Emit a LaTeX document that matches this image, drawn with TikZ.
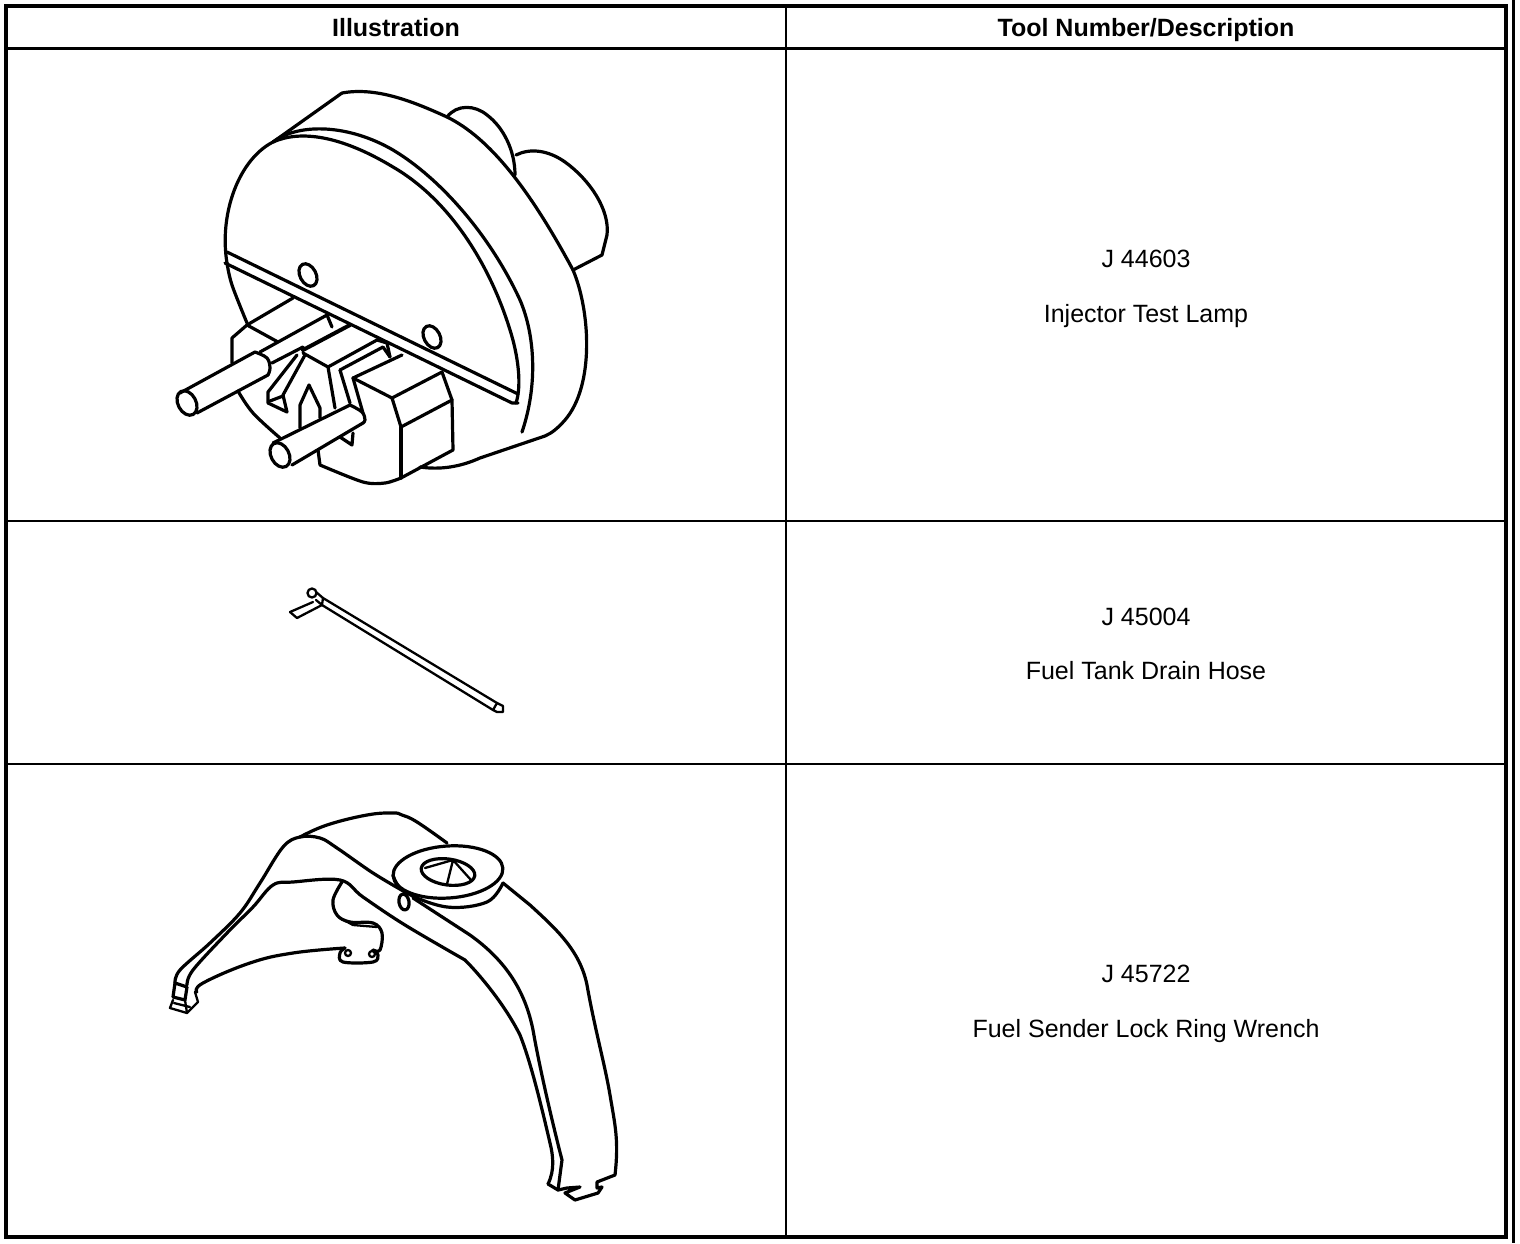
\documentclass[tikz,border=0pt]{standalone}
\usepackage{fontspec}
\setmainfont{Liberation Sans}
\begin{document}
\begin{tikzpicture}[x=1pt,y=-1pt,
  ink/.style={line width=3.2pt,line join=round,line cap=round},
  thin ink/.style={line width=2.3pt,line join=round,line cap=round},
  heavy/.style={line width=4pt},
  rule/.style={line width=2.6pt},
  head/.style={font=\fontsize{25}{28}\selectfont\bfseries,inner sep=0pt,anchor=base},
  body/.style={font=\fontsize{25}{28}\selectfont,inner sep=0pt,anchor=base}]
\useasboundingbox (0,0) rectangle (1520,1244);
% table
\draw[heavy] (6,6) rectangle (1506,1237);
\fill (1512,0) rectangle (1515,1243);
\draw[rule] (6,48.5) -- (1506,48.5) (6,521) -- (1506,521) (6,764) -- (1506,764) (786,6) -- (786,1237);
\node[head] (h1) at (396,37) {Illustration};
\node[head] (h2) at (1146,37) {Tool Number/Description};
\node[body] (a1) at (1146,267) {J 44603};
\node[body] (a2) at (1146,322) {Injector Test Lamp};
\node[body] (b1) at (1146,625) {J 45004};
\node[body] (b2) at (1146,679) {Fuel Tank Drain Hose};
\node[body] (c1) at (1146,982) {J 45722};
\node[body] (c2) at (1146,1037) {Fuel Sender Lock Ring Wrench};
% ---- test lamp
\begin{scope}[ink]
\draw (227,263) .. controls (219,215) and (238,160) .. (273,142)
      .. controls (300,130) and (340,135) .. (393,167)
      .. controls (450,200) and (490,265) .. (510,330)
      .. controls (518,355) and (522,385) .. (516,403);
\draw (273,142) .. controls (300,122) and (350,125) .. (393,150)
      .. controls (440,178) and (490,235) .. (520,300)
      .. controls (535,335) and (538,385) .. (522,432);
\draw (273,142) -- (342,93);
\draw (342,93) .. controls (375,87) and (410,100) .. (447,117)
      .. controls (490,138) and (530,190) .. (573,270)
      .. controls (590,310) and (595,385) .. (565,420)
      .. controls (558,428) and (552,433) .. (545,436)
      -- (480,458) .. controls (460,467) and (440,470) .. (420,467);
\draw (447,117) .. controls (457,104) and (475,105) .. (487,115)
      .. controls (503,127) and (515,150) .. (515,175);
\draw (516,155) .. controls (530,148) and (548,150) .. (565,162)
      .. controls (590,180) and (610,210) .. (607,235)
      -- (602,255) -- (573,270);
\draw (227,252) -- (518,394);
\draw (225,263) -- (512,403) -- (518,403);
\draw plot[smooth,tension=.6] coordinates {(227,263)(232,285)(247,323)};
\draw plot[smooth,tension=.6] coordinates {(238,391)(253,413)(280,438)};
\draw[rotate around={-62:(308,275)}] (308,275) ellipse [x radius=12pt,y radius=8pt];
\draw[rotate around={-62:(432,337)}] (432,337) ellipse [x radius=12pt,y radius=8pt];
% left block
\draw (293,298) -- (247,325) -- (232,338) -- (232,363);
\draw (247,325) -- (278,342);
% left pin
\draw[rotate around={-62:(187,403)}] (187,403) ellipse [x radius=13pt,y radius=9pt];
\draw (180,393) -- (255,352);
\draw (197,413) -- (268,375);
\draw plot[smooth,tension=.6] coordinates {(255,352)(267,358)(270,368)(268,375)};
\draw (260,352) -- (327,315) -- (332,327);
\draw (272,363) -- (303,347);
\draw[line width=4pt] (303,350) -- (350,325);
\draw (297,355) -- (268,392) -- (268,403) -- (287,412) -- (283,395) -- (305,355);
\draw (270,401) -- (283,396);
% centre body
\draw (303,353) -- (328,367) -- (335,408);
\draw (328,367) -- (377,340);
\draw (340,370) -- (383,347) -- (390,357);
\draw (377,340) -- (387,343) -- (390,357);
\draw (340,370) -- (350,403);
\draw (300,428) -- (300,405) -- (309,385) -- (320,408) -- (320,418);
% right block
\draw (353,378) -- (402,355);
\draw (353,378) -- (363,413);
\draw (353,378) -- (392,398) -- (442,372) -- (452,400) -- (453,450) -- (401,478);
\draw (392,398) -- (401,427) -- (452,400);
\draw (401,427) -- (401,478);
\draw plot[smooth,tension=.5] coordinates {(401,478)(385,483)(363,482)(320,465)};
\draw (320,465) -- (318,450);
% lower pin
\draw[rotate around={-62:(280,455)}] (280,455) ellipse [x radius=13pt,y radius=9pt];
\draw (273,443) -- (350,405);
\draw (292,465) -- (363,423);
\draw plot[smooth,tension=.6] coordinates {(350,405)(362,412)(365,420)(363,423)};
\draw (340,437) -- (352,445) -- (353,433);
\end{scope}
% ---- hose
\begin{scope}[thin ink]
\draw (323,598) -- (497,703);
\draw (322,605) -- (493,710);
\draw (497,703) -- (503,706) -- (503,712) -- (497,712) -- (493,710) -- (497,703);
\draw (312,593) circle [radius=4.5pt];
\draw (316,592) -- (323,598) -- (322,605) -- (316,600);
\draw (290,612) -- (313,602);
\draw (290,612) -- (297,618) -- (322,605);
\end{scope}
% ---- wrench
\begin{scope}[ink]
\draw plot[smooth,tension=.7] coordinates {(300,837)(327,825)(367,815)(393,813)(402,815)(417,822)(447,843)};
\draw plot[smooth,tension=.6] coordinates {(175,983)(180,970)(210,943)(240,913)(260,883)(283,847)(300,837)(320,838)(337,848)(373,873)(405,892)};
\draw plot[smooth,tension=.6] coordinates {(187,985)(193,970)(227,933)(253,907)(273,885)(293,882)(340,880)(363,897)(405,925)(465,960)};
\draw (465,960) .. controls (480,975) and (505,1005) .. (520,1035)
      .. controls (530,1060) and (540,1100) .. (550,1143)
      .. controls (553,1155) and (555,1170) .. (548,1184);
\draw (413,898) -- (470,935) .. controls (505,960) and (525,990) .. (533,1030)
      .. controls (540,1070) and (553,1125) .. (562,1160) -- (558,1190);
\draw (503,883) -- (530,905) .. controls (555,928) and (580,950) .. (587,985)
      .. controls (595,1030) and (605,1065) .. (610,1095)
      .. controls (615,1125) and (619,1140) .. (615,1175);
\draw (615,1175) -- (597,1182) -- (597,1188) -- (602,1187) -- (598,1193) -- (575,1200) -- (565,1193) -- (580,1187) -- (567,1188) -- (558,1190) -- (548,1184);
\draw plot[smooth,tension=.6] coordinates {(342,882)(333,900)(337,915)(350,922)(373,923)(382,933)(380,950)(373,950)};
\draw[thin ink] (340,918) -- (353,925) -- (377,927);
\draw plot[smooth,tension=.7] coordinates {(197,992)(203,983)(250,963)(293,953)(345,948)};
\draw plot[smooth,tension=.6] coordinates {(345,948)(340,953)(343,962)(373,962)(378,955)(373,950)};
\draw[thin ink] (348,953) circle [radius=3pt] (372,954) circle [radius=3pt];
\draw (175,983) -- (173,997) -- (185,1000) -- (187,987) -- cycle;
\draw[thin ink] (173,1000) -- (170,1008) -- (187,1013) -- (198,1002) -- (195,992) -- (197,992);
\draw[thin ink] (174,1003) -- (190,1007) (185,1000) -- (187,1013);
% dial
\draw[rotate around={4:(448,872)}] (448,872) ellipse [x radius=55pt,y radius=26pt];
\draw plot[smooth,tension=.6] coordinates {(393,875)(405,892)(447,907)(487,902)(503,883)};
\draw[rotate around={-8:(448,872)}] (448,872) ellipse [x radius=27pt,y radius=13pt];
\draw[thin ink] (453,860) -- (447,884) (453,860) -- (471,880) (453,860) -- (425,868);
\draw[rotate around={-80:(404,902)}] (404,902) ellipse [x radius=8pt,y radius=5pt];
\end{scope}
\end{tikzpicture}
\end{document}
